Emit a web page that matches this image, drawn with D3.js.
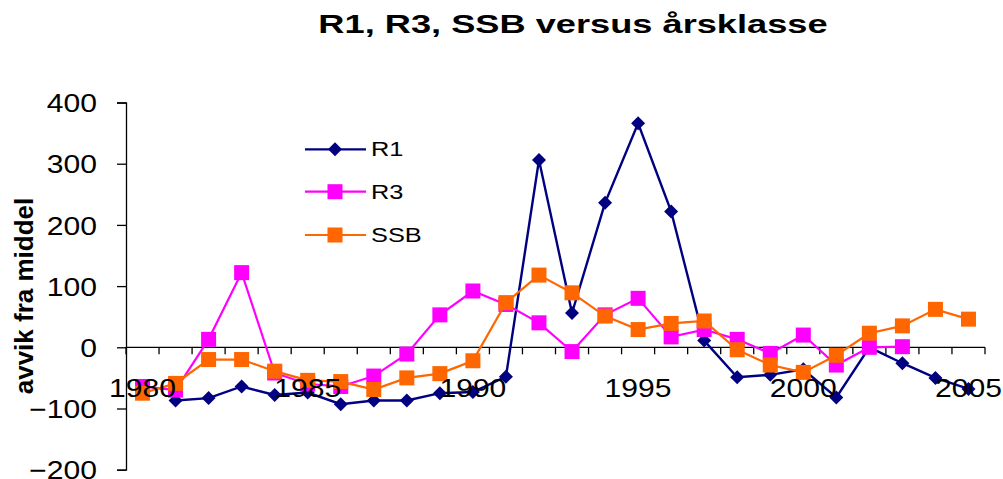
<!DOCTYPE html>
<html>
<head>
<meta charset="utf-8">
<script src="https://cdn.jsdelivr.net/npm/d3@7"></script>
<style>
  body { margin: 0; background: #fff; }
  svg { display: block; font-family: "Liberation Sans", Arial, sans-serif; }
</style>
</head>
<body>
<svg></svg>
<script>
// chart data
const years = d3.range(1980, 2006);
const r1 = [null, -87, -83, -64, -78, -74, -93, -87, -87, -75, -73, -48, 306, 56, 236, 366, 222, 11, -49, -45, -36, -82, 0, -26, -50, -68];
const r3 = [-64, -70, 13, 122, -42, -60, -64, -47, -11, 53, 92, 70, 40, -7, 53, 80, 17, 29, 13, -10, 20, -29, 0, 1, null, null];
const ssb = [-75, -59, -20, -20, -39, -54, -56, -69, -50, -43, -22, 73, 118, 89, 51, 29, 39, 43, -4, -29, -41, -13, 23, 35, 62, 46];
const yTicks = [400, 300, 200, 100, 0, -100, -200];
const xLabels = [1980, 1985, 1990, 1995, 2000, 2005];
const seriesNames = ["R1", "R3", "SSB"];

window.onload = function() {

    const svg = d3.select("svg")
        .attr("width", 1003)
        .attr("height", 479);

    const x = d3.scaleBand()
        .domain(years)
        .range([126, 985])
        .padding(0);
    const y = d3.scaleLinear()
        .domain([-200, 400])
        .range([469.7, 102.5]);
    const cx = function(yr) { return x(yr) + x.bandwidth() / 2; };

    // the original picture is stretched sideways, so widen text a bit
    function stretch(sel, k) {
        sel.each(function() {
            const len = this.getComputedTextLength();
            d3.select(this)
                .attr("textLength", len * k)
                .attr("lengthAdjust", "spacingAndGlyphs");
        });
    }

    // title
    svg.append("text")
        .attr("x", 573)
        .attr("y", 33)
        .attr("text-anchor", "middle")
        .attr("font-size", 25.5)
        .attr("font-weight", "bold")
        .text("R1, R3, SSB versus årsklasse")
        .call(stretch, 1.42);

    // y axis title
    svg.append("text")
        .attr("transform", "translate(33,296) rotate(-90)")
        .attr("text-anchor", "middle")
        .attr("font-size", 25)
        .attr("font-weight", "bold")
        .text("avvik fra middel")
        .call(stretch, 1.04);

    // y axis
    const yAxis = d3.axisLeft(y)
        .tickValues(yTicks)
        .tickSize(9)
        .tickPadding(20)
        .tickFormat(d3.format("d"));
    const gy = svg.append("g")
        .attr("transform", "translate(126,0)")
        .call(yAxis);
    gy.select(".domain").attr("stroke", "#000").attr("stroke-width", 1.3);
    gy.selectAll(".tick line").attr("stroke", "#000").attr("stroke-width", 1.3);
    gy.selectAll(".tick text")
        .attr("font-size", 25.5)
        .attr("font-family", "Liberation Sans, Arial, sans-serif")
        .attr("fill", "#000")
        .attr("dy", "0.36em")
        .call(stretch, 1.18);

    // x axis along zero, ticks on category borders
    const gx = svg.append("g");
    gx.append("line")
        .attr("x1", x.range()[0])
        .attr("x2", x.range()[1])
        .attr("y1", y(0))
        .attr("y2", y(0))
        .attr("stroke", "#000")
        .attr("stroke-width", 1.3);
    gx.selectAll("line.tk")
        .data(years.concat([2006]))
        .join("line")
        .attr("class", "tk")
        .attr("x1", function(d) { return d === 2006 ? x.range()[1] : x(d); })
        .attr("x2", function(d) { return d === 2006 ? x.range()[1] : x(d); })
        .attr("y1", y(0))
        .attr("y2", y(0) + 7)
        .attr("stroke", "#000")
        .attr("stroke-width", 1.3);

    const line = d3.line()
        .defined(function(d) { return d.v != null; })
        .x(function(d) { return cx(d.yr); })
        .y(function(d) { return y(d.v); });

    const series = [
        { name: "R1", values: r1, color: "#000080", shape: "diamond" },
        { name: "R3", values: r3, color: "#FF00FF", shape: "square" },
        { name: "SSB", values: ssb, color: "#FF6600", shape: "square" }
    ];

    function marker(g, shape, color) {
        if (shape === "diamond") {
            g.append("path")
                .attr("d", "M0,-7L7,0L0,7L-7,0Z")
                .attr("fill", color);
        } else {
            g.append("rect")
                .attr("x", -7.5).attr("y", -7.5)
                .attr("width", 15).attr("height", 15)
                .attr("fill", color);
        }
    }

    series.forEach(function(s) {
        const pts = years.map(function(yr, i) { return { yr: yr, v: s.values[i] }; });
        const g = svg.append("g");
        g.append("path")
            .datum(pts)
            .attr("d", line)
            .attr("fill", "none")
            .attr("stroke", s.color)
            .attr("stroke-width", s.shape === "diamond" ? 2.4 : 2.2);
        g.selectAll("g.pt")
            .data(pts.filter(function(d) { return d.v != null; }))
            .join("g")
            .attr("class", "pt")
            .attr("transform", function(d) { return "translate(" + cx(d.yr) + "," + y(d.v) + ")"; })
            .each(function() { marker(d3.select(this), s.shape, s.color); });
    });

    // x labels drawn over the lines, like the original
    svg.selectAll("text.xl")
        .data(xLabels)
        .join("text")
        .attr("class", "xl")
        .attr("x", function(d) { return cx(d); })
        .attr("y", 397)
        .attr("text-anchor", "middle")
        .attr("font-size", 25.5)
        .text(function(d) { return d; })
        .call(stretch, 1.18);

    // legend
    const legendY = [149.3, 191.7, 235];
    series.forEach(function(s, i) {
        const lg = svg.append("g").attr("transform", "translate(0," + legendY[i] + ")");
        lg.append("line")
            .attr("x1", 305).attr("x2", 366)
            .attr("stroke", s.color)
            .attr("stroke-width", 2.2);
        const m = lg.append("g").attr("transform", "translate(335,0)");
        marker(m, s.shape, s.color);
        lg.append("text")
            .attr("x", 371)
            .attr("dy", "0.36em")
            .attr("font-size", 19.5)
            .text(seriesNames[i])
            .call(stretch, 1.3);
    });
};
</script>
</body>
</html>
